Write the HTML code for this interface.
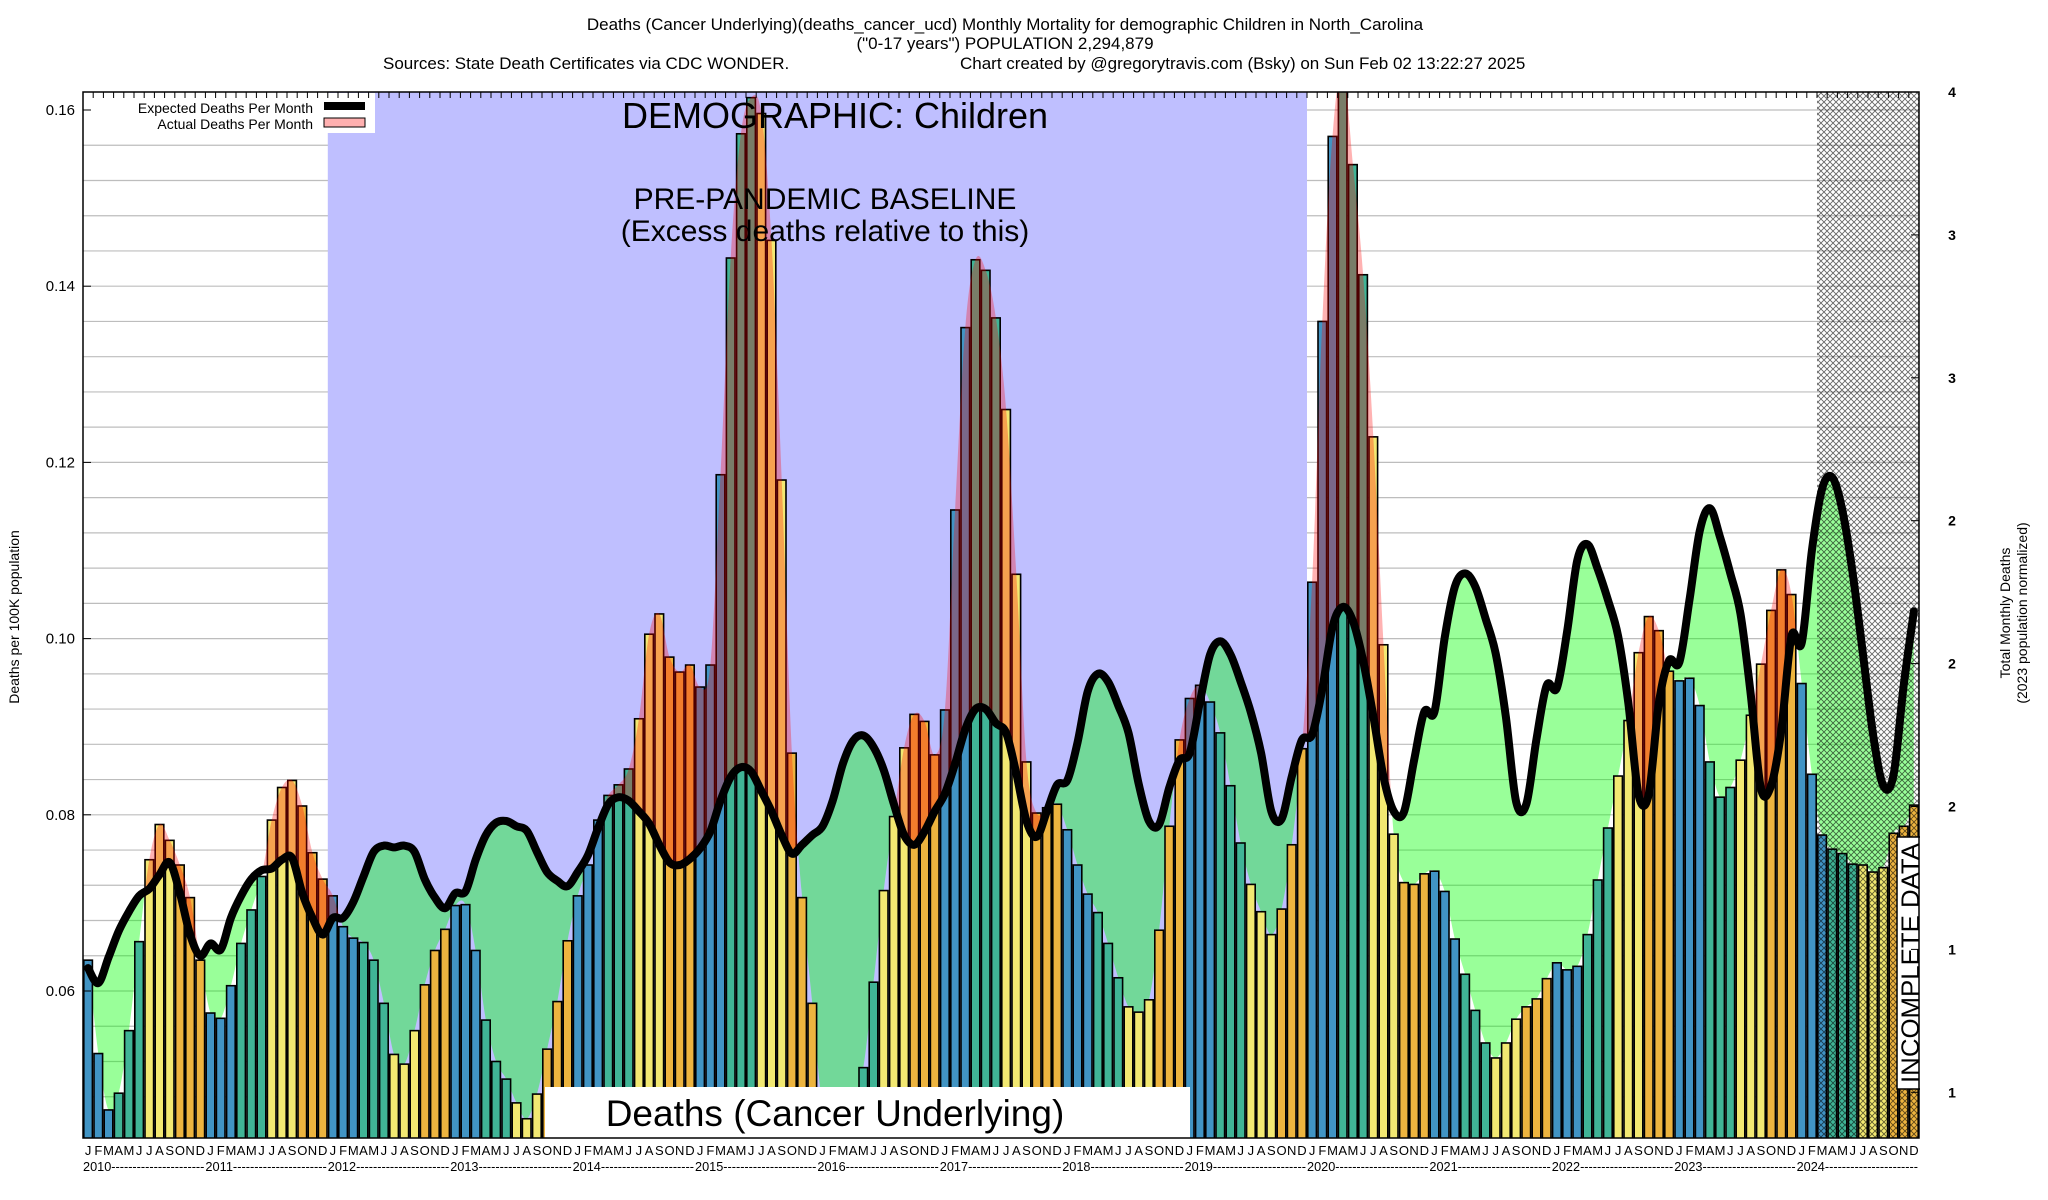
<!DOCTYPE html>
<html><head><meta charset="utf-8"><style>
html,body{margin:0;padding:0;background:#fff}
svg{display:block;font-family:"Liberation Sans",sans-serif}
</style></head><body>
<svg id="chart" width="2048" height="1200" viewBox="0 0 2048 1200" xmlns="http://www.w3.org/2000/svg">
<defs>
<pattern id="hatch" width="6" height="6" patternUnits="userSpaceOnUse">
<path d="M0,0 L6,6 M6,0 L0,6" stroke="#000" stroke-width="0.9" fill="none"/>
</pattern>
<clipPath id="plotClip"><rect x="83" y="92" width="1837" height="1046"/></clipPath>
<clipPath id="aboveExp"><path id="aboveExpPath" d=""/></clipPath>
<clipPath id="belowExp"><path id="belowExpPath" d=""/></clipPath>
</defs>
<g font-size="17" text-anchor="middle">
<text x="1005" y="30">Deaths (Cancer Underlying)(deaths_cancer_ucd) Monthly Mortality for demographic Children in North_Carolina</text>
<text x="1005" y="49">("0-17 years") POPULATION 2,294,879</text>
<text x="383" y="69" text-anchor="start">Sources: State Death Certificates via CDC WONDER.</text>
<text x="960" y="69" text-anchor="start">Chart created by @gregorytravis.com (Bsky) on Sun Feb 02 13:22:27 2025</text>
</g>
<g id="plot" clip-path="url(#plotClip)"></g>
<g id="axes"></g>
</svg>
<script>
const bars = [
0.0635,0.0529,0.0465,0.0484,0.0555,0.0656,0.0749,0.0789,0.0771,0.0743,0.0706,0.0635,
0.0575,0.0569,0.0606,0.0654,0.0692,0.073,0.0794,0.0831,0.0839,0.081,0.0757,0.0727,
0.0708,0.0673,0.066,0.0655,0.0635,0.0586,0.0528,0.0517,0.0555,0.0607,0.0646,0.067,
0.0697,0.0698,0.0646,0.0567,0.052,0.05,0.0473,0.0455,0.0483,0.0534,0.0588,0.0657,
0.0708,0.0743,0.0794,0.0822,0.0834,0.0852,0.0909,0.1005,0.1028,0.0979,0.0962,0.097,
0.0945,0.097,0.1186,0.1432,0.1573,0.1614,0.1596,0.1452,0.118,0.087,0.0706,0.0586,
0.047,0.046,0.045,0.047,0.0513,0.061,0.0714,0.0798,0.0876,0.0914,0.0906,0.0868,
0.0919,0.1146,0.1353,0.143,0.1418,0.1364,0.126,0.1073,0.086,0.0802,0.0808,0.0812,
0.0783,0.0743,0.071,0.0689,0.0654,0.0615,0.0582,0.0576,0.059,0.0669,0.0787,0.0885,
0.0932,0.0947,0.0928,0.0893,0.0833,0.0768,0.0721,0.069,0.0664,0.0693,0.0766,0.0875,
0.1064,0.136,0.157,0.165,0.1538,0.1413,0.1229,0.0993,0.0778,0.0723,0.0721,0.0733,
0.0736,0.0713,0.0659,0.0619,0.0578,0.0541,0.0524,0.0541,0.0568,0.0582,0.0591,0.0614,
0.0632,0.0624,0.0628,0.0664,0.0726,0.0785,0.0844,0.0907,0.0984,0.1025,0.1009,0.0963,
0.0952,0.0955,0.0924,0.086,0.082,0.0831,0.0862,0.0913,0.0971,0.1032,0.1078,0.105,
0.0949,0.0846,0.0777,0.0761,0.0756,0.0744,0.0743,0.0735,0.074,0.0779,0.0787,0.0811];
const expected = [
.0626,.0609,.0638,.0668,.069,.0708,.0716,.0732,.0746,.0711,.0664,.064,
.0654,.0647,.0683,.0708,.0727,.0737,.0739,.0749,.0751,.0711,.0683,.0664,
.0683,.0683,.0701,.073,.0758,.0765,.0763,.0765,.0758,.0727,.0706,.0694,
.0711,.0713,.0749,.0777,.0791,.0793,.0787,.0782,.0758,.0735,.0725,.0719,
.0735,.0754,.0785,.0812,.082,.0816,.0804,.079,.0766,.0746,.0743,.075,
.0762,.0781,.0816,.0843,.0854,.0849,.0827,.0804,.0777,.0756,.0766,.0777,
.0787,.0816,.0858,.0884,.089,.0877,.0851,.0812,.0777,.0766,.0781,.0804,
.0824,.0858,.0897,.092,.092,.0904,.0893,.0847,.0793,.0775,.0804,.0834,
.0839,.0882,.094,.096,.0951,.0924,.0893,.0835,.0793,.0789,.0831,.0862,
.087,.0928,.0982,.0997,.0982,.0951,.0916,.087,.0804,.0795,.0843,.0885,
.0891,.0943,.1013,.1036,.102,.0975,.0912,.0843,.0804,.0803,.0862,.0917,
.0917,.1001,.1059,.1074,.1059,.1023,.0983,.0911,.0815,.0812,.0886,.0947,
.0944,.1008,.1089,.1107,.1079,.1044,.1003,.0927,.0823,.0823,.0927,.0975,
.0973,.1044,.1122,.1148,.1115,.1074,.1028,.0937,.083,.0833,.0896,.1003,
.0995,.11,.117,.1183,.1145,.1074,.0983,.0891,.0833,.0845,.0947,.1031];
const monthLetters = ["J","F","M","A","M","J","J","A","S","O","N","D"];
const years = [2010,2011,2012,2013,2014,2015,2016,2017,2018,2019,2020,2021,2022,2023,2024];
const leftTicks = [0.06,0.08,0.10,0.12,0.14,0.16];
const rightTickLabels = ["4","3","3","2","2","2","1","1"];
const baselineStart = 24, baselineEnd = 120, incompleteStart = 170;

const NS="http://www.w3.org/2000/svg";
const X0=83, MW=10.2, TOP=92, BOT=1138, RIGHT=X0+MW*180;
function xs(m){return X0+MW*m;}
function ys(v){return 991-(v-0.06)*8810;}
function mk(tag,attrs,parent){const e=document.createElementNS(NS,tag);for(const k in attrs)e.setAttribute(k,attrs[k]);parent.appendChild(e);return e;}
function smooth(pts){let d="M"+pts[0][0]+","+pts[0][1];for(let i=0;i<pts.length-1;i++){const p0=pts[Math.max(0,i-1)],p1=pts[i],p2=pts[i+1],p3=pts[Math.min(pts.length-1,i+2)];
const c1x=p1[0]+(p2[0]-p0[0])/6,c1y=p1[1]+(p2[1]-p0[1])/6,c2x=p2[0]-(p3[0]-p1[0])/6,c2y=p2[1]-(p3[1]-p1[1])/6;
d+=` C${c1x.toFixed(1)},${c1y.toFixed(1)} ${c2x.toFixed(1)},${c2y.toFixed(1)} ${p2[0].toFixed(1)},${p2[1].toFixed(1)}`;}return d;}
const plot=document.getElementById('plot'), axes=document.getElementById('axes');

for(let v=0.044;v<=0.1621;v+=0.004){const y=ys(v);
const g=mk('line',{x1:X0,x2:RIGHT,y1:y,y2:y,stroke:'#bdbdbd','stroke-width':1.2},plot);

}
const br=mk('rect',{x:xs(baselineStart),y:TOP,width:xs(baselineEnd)-xs(baselineStart),height:BOT-TOP,fill:'#bfbfff'},plot);



const expPts=expected.map((v,i)=>[xs(i+0.5),ys(v)]);
const actPts=bars.map((v,i)=>[xs(i+0.5),ys(v)]);
const expD=smooth(expPts), actD=smooth(actPts);
const xa=xs(0.5), xb=xs(179.5);
document.getElementById('aboveExpPath').setAttribute('d',expD+` L${xb},0 L${xa},0 Z`);
document.getElementById('belowExpPath').setAttribute('d',expD+` L${xb},1200 L${xa},1200 Z`);
const ga=mk('path',{d:actD+` L${xb},0 L${xa},0 Z`,fill:'rgba(0,255,0,0.4)','clip-path':'url(#belowExp)'},plot);


const colors=['#4194c4','#40b496','#f2e872','#edb43f'];
bars.forEach((v,i)=>{const y=ys(v);
const r=mk('rect',{x:xs(i)+0.8,y:y,width:MW-1.6,height:BOT-y+2,fill:colors[Math.floor((i%12)/3)],stroke:'#000','stroke-width':1.6},plot);

});
const pa=mk('path',{d:actD+` L${xb},1200 L${xa},1200 Z`,fill:'rgba(255,0,0,0.3)','clip-path':'url(#aboveExp)'},plot);


const el=mk('path',{d:expD,fill:'none',stroke:'#000','stroke-width':8,'stroke-linejoin':'round','stroke-linecap':'round'},plot);


const hr=mk('rect',{x:xs(incompleteStart),y:TOP,width:RIGHT-xs(incompleteStart),height:BOT-TOP,fill:'url(#hatch)',opacity:0.6},plot);


const wb=mk('rect',{x:545,y:1087,width:645,height:52,fill:'#fff'},plot);


const wt=mk('text',{x:835,y:1126,'font-size':37,'text-anchor':'middle'},plot);wt.textContent='Deaths (Cancer Underlying)';


const t1=mk('text',{x:835,y:128,'font-size':36,'text-anchor':'middle'},plot);t1.textContent='DEMOGRAPHIC: Children';


const t2=mk('text',{x:825,y:209,'font-size':30,'text-anchor':'middle'},plot);t2.textContent='PRE-PANDEMIC BASELINE';


const t3=mk('text',{x:825,y:241,'font-size':30,'text-anchor':'middle'},plot);t3.textContent='(Excess deaths relative to this)';


const ib=mk('rect',{x:1897,y:837,width:26,height:252,fill:'#fff',stroke:'#000','stroke-width':1.5},plot);


const it=mk('text',{x:0,y:0,'font-size':25,'text-anchor':'middle',textLength:240,lengthAdjust:'spacingAndGlyphs',transform:'translate(1919,963) rotate(-90)'},plot);it.textContent='INCOMPLETE DATA';


const lb=mk('rect',{x:84,y:93,width:291,height:40,fill:'#fff'},plot);


const l1=mk('text',{x:313,y:113,'font-size':14,'text-anchor':'end'},plot);l1.textContent='Expected Deaths Per Month';


mk('rect',{x:324,y:102,width:41,height:8,fill:'#000'},plot);
const l2=mk('text',{x:313,y:129,'font-size':14,'text-anchor':'end'},plot);l2.textContent='Actual Deaths Per Month';


mk('rect',{x:324,y:118,width:41,height:9,fill:'#ffb0b0',stroke:'#000','stroke-width':1},plot);

const fr=mk('rect',{x:X0,y:TOP,width:RIGHT-X0,height:BOT-TOP,fill:'none',stroke:'#000','stroke-width':1.5},axes);


leftTicks.forEach(v=>{const y=ys(v);
mk('line',{x1:X0,x2:X0+8,y1:y,y2:y,stroke:'#000'},axes);
const t=mk('text',{x:75,y:y+5,'font-size':15,'text-anchor':'end'},axes);t.textContent=v.toFixed(2);

});
rightTickLabels.forEach((s,i)=>{const y=92+i*142.9;
mk('line',{x1:RIGHT-8,x2:RIGHT,y1:y,y2:y,stroke:'#000'},axes);
const t=mk('text',{x:1952,y:y+5,'font-size':14,'font-weight':'bold','text-anchor':'middle'},axes);t.textContent=s;

});
for(let m=0;m<180;m++){const x=xs(m+0.5);
mk('line',{x1:xs(m),x2:xs(m),y1:TOP,y2:TOP+6,stroke:'#000','stroke-width':1},axes);
const t=mk('text',{x:x,y:1155,'font-size':13,'text-anchor':'middle'},axes);t.textContent=monthLetters[m%12];

}
years.forEach((yr,i)=>{
const t=mk('text',{x:xs(i*12),y:1171,'font-size':13,textLength:MW*12-1,lengthAdjust:'spacingAndGlyphs'},axes);t.textContent=yr+'----------------------';

});
const yl=mk('text',{x:0,y:0,'font-size':14,'text-anchor':'middle',transform:'translate(19,617) rotate(-90)'},axes);yl.textContent='Deaths per 100K population';


const r1=mk('text',{x:0,y:0,'font-size':14,'text-anchor':'middle',transform:'translate(2010,613) rotate(-90)'},axes);r1.textContent='Total Monthly Deaths';


const r2=mk('text',{x:0,y:0,'font-size':14,'text-anchor':'middle',transform:'translate(2027,613) rotate(-90)'},axes);r2.textContent='(2023 population normalized)';


</script>
</body></html>
